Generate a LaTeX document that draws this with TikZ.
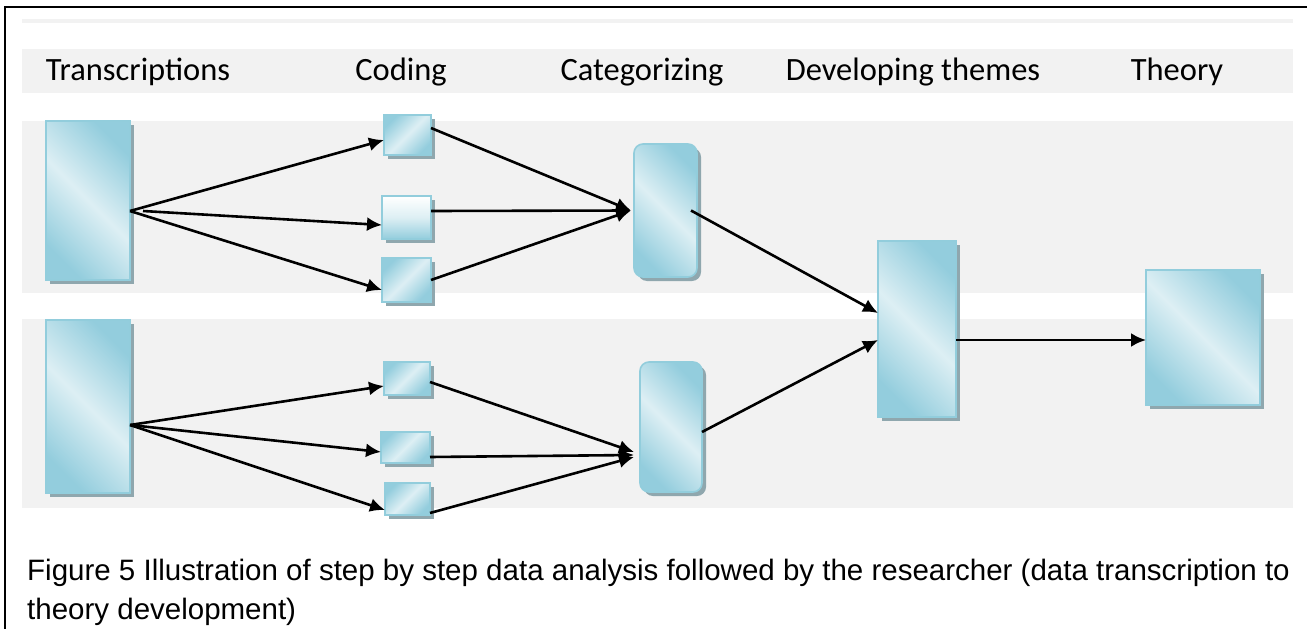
\documentclass[tikz,border=0pt]{standalone}
\usepackage{fontspec}
\newfontfamily\headfont{Carlito}
\newfontfamily\capfont{Liberation Sans}
\usetikzlibrary{arrows.meta,shadows}
\definecolor{bandgray}{HTML}{F2F2F2}
\definecolor{boxlight}{HTML}{DDEFF4}
\definecolor{boxdark}{HTML}{93CDDD}
\definecolor{boxedge}{HTML}{92CDDC}
\definecolor{boxshade}{HTML}{8FA7AE}
\tikzset{
	stagebox/.style={draw=boxedge, line width=1.6pt, inner sep=0pt, outer sep=0pt,
		top color=boxdark, bottom color=boxdark, middle color=boxlight, shading angle=-45,
		drop shadow={shadow xshift=4pt, shadow yshift=-4pt, fill=boxshade, opacity=1}},
	codebox/.style={stagebox, shading angle=45},
	whitebox/.style={stagebox, top color=white, bottom color=boxdark, middle color=boxlight, shading angle=0},
	catbox/.style={stagebox, rounded corners=9pt},
	flow/.style={line width=2.6pt, -{Latex[length=15pt,width=14pt]}},
	headtxt/.style={anchor=base, font=\headfont\fontsize{32.5}{39}\selectfont},
	captxt/.style={anchor=base west, inner sep=0pt, font=\capfont\fontsize{29.5}{35}\selectfont}
}
\begin{document}
\begin{tikzpicture}[x=1pt, y=-1pt]
	\useasboundingbox (0,0) rectangle (1307,629);
	\fill[white] (0,0) rectangle (1307,629);
	\draw[line width=2pt] (5,629) -- (5,7) -- (1307,7);
	\fill[bandgray] (22,19) rectangle (1293,23);
	\fill[bandgray] (22,49) rectangle (1293,93);
	\fill[bandgray] (22,121) rectangle (1293,293);
	\fill[bandgray] (22,319) rectangle (1293,508);

	\node[headtxt] (h1) at (138,80) {Transcriptions};
	\node[headtxt] (h2) at (401,80) {Coding};
	\node[headtxt] (h3) at (642,80) {Categorizing};
	\node[headtxt] (h4) at (913,80) {Developing themes};
	\node[headtxt] (h5) at (1177,80) {Theory};

	\node[stagebox, minimum width=84pt, minimum height=159pt] (tr1) at (88,200.5) {};
	\node[stagebox, minimum width=84pt, minimum height=173pt] (tr2) at (88,406.5) {};
	\node[codebox, minimum width=47pt, minimum height=40pt] (ca) at (407.5,135) {};
	\node[whitebox, minimum width=49pt, minimum height=43pt] (cb) at (406.5,217.5) {};
	\node[codebox, minimum width=49pt, minimum height=44pt] (cc) at (406.5,280) {};
	\node[codebox, minimum width=46pt, minimum height=33pt] (cd) at (407,378.5) {};
	\node[codebox, minimum width=49pt, minimum height=31pt] (ce) at (405.5,447.5) {};
	\node[codebox, minimum width=45pt, minimum height=32pt] (cf) at (407.5,499) {};
	\node[catbox, minimum width=63pt, minimum height=133pt] (cat1) at (665.5,210.5) {};
	\node[catbox, minimum width=62pt, minimum height=130pt] (cat2) at (671,427) {};
	\node[stagebox, minimum width=78pt, minimum height=176pt] (dev) at (917,329) {};
	\node[stagebox, minimum width=114pt, minimum height=135pt] (th) at (1203,337.5) {};

	\draw[flow] ([yshift=-10.5pt]tr1.east) -- ([yshift=-5pt]ca.west);
	\draw[flow] ([xshift=13pt,yshift=-10.5pt]tr1.east) -- ([yshift=-7.5pt]cb.west);
	\draw[flow] ([yshift=-10.5pt]tr1.east) -- ([yshift=-10pt]cc.west);
	\draw[flow] ([yshift=7pt]ca.east) -- ([xshift=-3pt]cat1.west);
	\draw[flow] ([yshift=6.5pt]cb.east) -- ([xshift=-3pt]cat1.west);
	\draw[flow] (cc.east) -- ([xshift=-3pt]cat1.west);
	\draw[flow] ([xshift=-6pt]cat1.east) -- ([yshift=16pt]dev.west);
	\draw[flow] ([yshift=-18.5pt]tr2.east) -- ([yshift=-7.5pt]cd.west);
	\draw[flow] ([yshift=-18.5pt]tr2.east) -- ([yshift=-4.5pt]ce.west);
	\draw[flow] ([yshift=-18.5pt]tr2.east) -- ([yshift=-11pt]cf.west);
	\draw[flow] ([yshift=-3.5pt]cd.east) -- ([xshift=-6pt,yshift=-25pt]cat2.west);
	\draw[flow] ([yshift=-9.5pt]ce.east) -- ([xshift=-6pt,yshift=-28pt]cat2.west);
	\draw[flow] ([yshift=-14pt]cf.east) -- ([xshift=-6pt,yshift=-30pt]cat2.west);
	\draw[flow] ([yshift=-5pt]cat2.east) -- ([yshift=-11pt]dev.west);
	\draw[flow] ([yshift=-11pt]dev.east) -- ([yshift=-2.5pt]th.west);

	\node[captxt] (cap1) at (27,580) {Figure 5 Illustration of step by step data analysis followed by the researcher (data transcription to};
	\node[captxt] (cap2) at (27,619) {theory development)};
\end{tikzpicture}
\end{document}
